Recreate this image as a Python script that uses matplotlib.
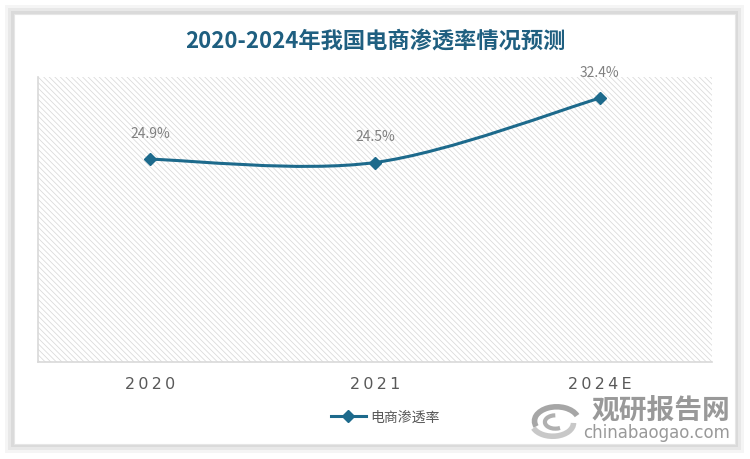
import numpy as np
import matplotlib.pyplot as plt
from matplotlib.patches import Rectangle, PathPatch, Arc
from matplotlib.path import Path
from matplotlib.lines import Line2D

plt.rcParams['font.family'] = ['Noto Sans CJK SC', 'DejaVu Sans']
plt.rcParams['hatch.linewidth'] = 0.55
plt.rcParams['hatch.color'] = '#d9d9d9'

years = ['2020', '2021', '2024E']
rate = [24.9, 24.5, 32.4]
labels = ['24.9%', '24.5%', '32.4%']

line_color = '#1d6a8c'

fig = plt.figure(figsize=(7.5, 4.6), dpi=100)
fig.patch.set_facecolor('white')

# card with soft shadow
for k, a in enumerate([0.04, 0.05, 0.06]):
    d = (3 - k) * 0.004
    fig.add_artist(Rectangle((14/750 - d, 15/460 - d*1.6), 721/750 + 2*d, 430/460 + 2*d*1.6,
                             transform=fig.transFigure, facecolor='black', alpha=a,
                             edgecolor='none', zorder=0))
fig.add_artist(Rectangle((14/750, 15/460), 721/750, 430/460, transform=fig.transFigure,
                         facecolor='white', edgecolor='#e6e6e6', linewidth=0.8, zorder=1))

ax = fig.add_axes([38/750, 1 - 363/460, 674/750, 285/460])
ax.set_zorder(2)
ax.set_facecolor('none')
ax.add_patch(Rectangle((0, 0), 1, 1, transform=ax.transAxes, facecolor='white',
                       hatch='\\\\\\\\\\\\', edgecolor='#d9d9d9', linewidth=0, zorder=0))

x = np.arange(len(years))
y = np.array(rate)

# smooth curve (Catmull-Rom style bezier through the points)
pts = np.column_stack([x, y])
verts = [pts[0]]
codes = [Path.MOVETO]
n = len(pts)
for i in range(n - 1):
    p0 = pts[i - 1] if i > 0 else pts[i]
    p1 = pts[i]
    p2 = pts[i + 1]
    p3 = pts[i + 2] if i + 2 < n else pts[i + 1]
    c1 = p1 + (p2 - p0) / 6
    c2 = p2 - (p3 - p1) / 6
    verts += [c1, c2, p2]
    codes += [Path.CURVE4] * 3
ax.add_patch(PathPatch(Path(verts, codes), facecolor='none', edgecolor=line_color,
                       linewidth=2.2, zorder=3))
ax.plot(x, y, linestyle='none', marker='D', markersize=6, color=line_color, zorder=4)

for xi, yi, lb in zip(x, y, labels):
    ax.annotate(lb, (xi, yi), xytext=(0, 14), textcoords='offset points',
                ha='center', va='bottom', fontsize=10, color='#808080')

ax.set_xlim(-0.5, 2.5)
ax.set_ylim(0, 35)
ax.set_yticks([])
ax.set_xticks(x)
ax.set_xticklabels(['\u2009'.join(t) for t in years], fontsize=11.5, color='#595959',
                   family=['DejaVu Sans'])
ax.tick_params(axis='x', length=0, pad=10)
for s in ['top', 'right']:
    ax.spines[s].set_visible(False)
for s in ['left', 'bottom']:
    ax.spines[s].set_color('#d9d9d9')
    ax.spines[s].set_linewidth(1.2)

fig.text(0.5, 1 - 42/460, '2020-2024年我国电商渗透率情况预测', ha='center', va='center',
         fontsize=16, fontweight='bold', color='#1f5f80', zorder=5)

handle = Line2D([0], [0], color=line_color, linewidth=2.2, marker='D', markersize=6)
fig.legend([handle], ['电商渗透率'], loc='center', bbox_to_anchor=(385/750, 1 - 418/460),
           frameon=False, fontsize=10, labelcolor='#595959', handlelength=2.5,
           handletextpad=0.3)

# watermark
wm = fig.add_axes([528/750, 1 - 442/460, 52/750, 38/460])
wm.set_zorder(3)
wm.set_xlim(-1, 1)
wm.set_ylim(-1, 1)
wm.axis('off')
wm.add_patch(Arc((0.1, 0.05), 1.7, 1.5, theta1=20, theta2=200, color='#a6a6a6', linewidth=4))
wm.add_patch(Arc((-0.05, -0.05), 1.6, 1.4, theta1=200, theta2=360, color='#c8c8c8', linewidth=4))
wm.add_patch(Arc((0.05, 0.0), 0.8, 0.7, theta1=90, theta2=300, color='#b0b0b0', linewidth=3))

fig.text(661/750, 1 - 411/460, '观研报告网', ha='center', va='center', fontsize=20,
         fontweight='bold', color='#999999', zorder=5)
fig.text(657/750, 1 - 433/460, 'chinabaogao.com', ha='center', va='center', fontsize=12,
         color='#999999', zorder=5, family=['DejaVu Sans'])

fig.savefig('out.png', dpi=100)
